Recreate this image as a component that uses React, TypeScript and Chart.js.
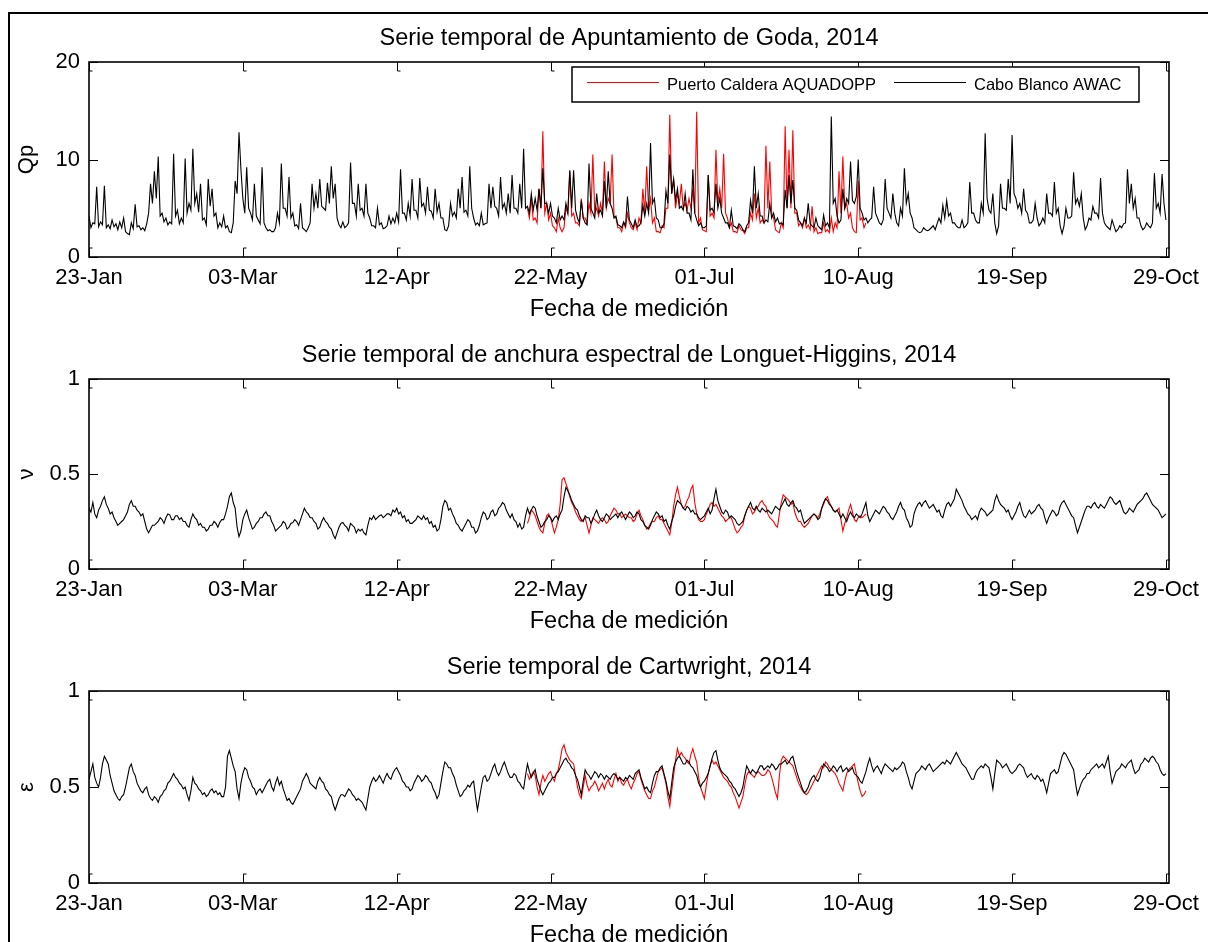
import React, { useEffect, useRef } from 'react';
import { Chart, registerables } from 'chart.js';

Chart.register(...registerables);

const FONT = '"Liberation Sans", Arial, Helvetica, sans-serif';

// Days counted from 23-Jan-2014
const X_TICK_DAYS = [0, 40, 80, 120, 160, 200, 240, 280];
const X_TICK_LABELS = ['23-Jan', '03-Mar', '12-Apr', '22-May', '01-Jul', '10-Aug', '19-Sep', '29-Oct'];
const X_MAX_DAY = 280.8;
const CALDERA_START_DAY = 114;

const SERIES_NAMES = ['Puerto Caldera AQUADOPP', 'Cabo Blanco AWAC'];
const PANEL_TITLES = [
  'Serie temporal de Apuntamiento de Goda, 2014',
  'Serie temporal de anchura espectral de Longuet-Higgins, 2014',
  'Serie temporal de Cartwright, 2014',
];
const Y_LABELS = ['Qp', 'ν', 'ε'];
const X_LABEL = 'Fecha de medición';

// Goda peakedness Qp, Cabo Blanco AWAC: readings at each whole day
const QP_CABO = [
  4.2, 3.5, 7.2, 3.6, 7.3, 3.3, 3.8, 3.4, 3.6, 4.0,
  2.4, 3.5, 5.4, 3.2, 3.0, 3.4, 7.5, 8.8, 10.3, 4.5,
  4.0, 3.6, 10.6, 4.8, 4.0, 10.1, 5.5, 11.1, 6.5, 7.5,
  4.0, 8.0, 7.0, 4.5, 3.5, 4.2, 3.2, 2.5, 7.8, 12.8,
  6.0, 9.2, 4.5, 7.5, 3.8, 9.2, 3.0, 2.8, 2.6, 4.5,
  9.6, 5.0, 8.2, 4.5, 3.3, 5.5, 2.8, 3.0, 7.5, 6.5,
  8.0, 5.0, 7.6, 9.3, 7.5, 3.3, 3.6, 3.2, 9.7, 5.5,
  7.5, 5.0, 7.5, 4.0, 3.2, 5.0, 3.5, 3.0, 4.2, 4.0,
  4.5, 9.0, 4.5, 5.5, 8.0, 4.8, 8.1, 5.5, 7.2, 4.7,
  7.0, 5.5, 4.0, 2.7, 5.5, 4.6, 7.0, 8.2, 4.8, 9.3,
  4.0, 3.5, 4.5, 3.4, 7.5, 7.2, 5.0, 8.2, 5.5, 6.5,
  8.4, 5.0, 7.5, 11.1, 5.2, 6.5, 6.0, 7.0, 9.1, 5.5,
  5.5, 4.0, 5.0, 4.2, 5.5, 8.9, 8.9, 4.0, 5.8, 3.5,
  9.6, 4.5, 6.5, 4.8, 7.8, 8.8, 5.0, 4.2, 3.2, 3.6,
  6.2, 3.4, 3.8, 3.2, 5.3, 5.5, 11.7, 6.0, 3.8, 3.0,
  6.8, 10.5, 8.0, 7.0, 5.2, 6.5, 4.5, 9.0, 3.8, 3.5,
  3.0, 8.4, 5.0, 7.5, 6.0, 4.0, 3.5, 4.8, 3.1, 3.4,
  2.8, 3.2, 5.8, 9.3, 6.5, 4.2, 3.8, 5.5, 4.5, 4.0,
  3.5, 6.9, 8.4, 7.9, 4.8, 3.5, 4.0, 5.5, 3.2, 4.0,
  3.0, 4.3, 3.5, 14.4, 6.0, 3.5, 7.0, 6.0, 9.8, 5.5,
  10.0, 4.5, 4.0, 3.8, 7.2, 4.0, 3.3, 8.0, 4.5, 6.5,
  3.5, 5.0, 9.1, 6.5, 4.0, 2.8, 2.5, 3.0, 2.7, 3.0,
  2.8, 4.0, 5.3, 5.8, 4.5, 3.5, 3.0, 3.8, 3.2, 7.7,
  4.5, 3.5, 5.5, 12.7, 4.8, 6.5, 2.4, 7.5, 5.0, 8.0,
  12.5, 6.0, 5.5, 7.0, 4.5, 3.5, 5.5, 3.2, 4.0, 6.5,
  4.5, 7.7, 5.0, 2.4, 5.0, 4.0, 8.7, 6.0, 6.5, 2.8,
  4.0, 5.2, 4.5, 8.1, 3.5, 3.0, 3.8, 2.6, 3.2, 3.4,
  9.0, 7.5, 6.0, 4.0, 2.8, 3.5, 3.0, 8.6, 5.5, 8.5,
  3.8,
];

// Qp, Cabo Blanco AWAC: readings half-way through each day
const QP_CABO_MID = [
  3.0, 3.4, 3.1, 3.3, 3.0, 2.9, 3.1, 2.8, 3.0, 2.6,
  2.3, 2.9, 3.1, 2.8, 2.7, 4.5, 5.5, 6.0, 4.2, 3.6,
  3.3, 3.4, 4.2, 3.4, 3.5, 4.5, 4.8, 5.5, 4.6, 3.8,
  3.3, 5.2, 4.2, 3.0, 3.1, 3.0, 2.6, 3.5, 6.5, 9.0,
  4.5, 5.0, 3.8, 4.2, 3.4, 3.5, 2.7, 2.6, 3.0, 3.5,
  5.0, 4.2, 4.0, 3.2, 2.9, 3.0, 2.6, 3.5, 5.0, 5.0,
  5.2, 4.8, 5.5, 6.0, 4.0, 3.0, 3.0, 3.5, 5.5, 4.2,
  4.8, 4.2, 4.5, 3.2, 3.0, 3.3, 2.9, 3.2, 3.4, 3.5,
  3.6, 4.5, 3.8, 4.2, 4.8, 4.0, 5.2, 4.5, 4.8, 4.0,
  4.6, 4.0, 2.8, 3.2, 4.2, 4.0, 5.0, 4.6, 4.2, 5.0,
  3.3, 3.2, 3.3, 3.5, 5.0, 5.2, 4.2, 5.0, 4.5, 4.5,
  5.0, 4.5, 5.0, 5.0, 4.5, 4.8, 4.8, 5.0, 5.5, 4.5,
  4.2, 3.5, 3.8, 3.8, 4.5, 5.0, 4.8, 3.5, 4.0, 3.3,
  5.0, 4.0, 4.5, 4.2, 5.0, 5.5, 4.0, 3.3, 3.0, 3.2,
  3.8, 3.0, 3.1, 3.5, 4.2, 4.5, 5.5, 4.0, 3.0, 3.4,
  5.5, 6.5, 5.8, 5.0, 4.8, 4.5, 3.8, 4.5, 3.2, 3.0,
  3.2, 4.8, 4.5, 5.0, 4.5, 3.5, 3.0, 3.2, 2.9, 3.2,
  2.6, 3.5, 4.5, 5.0, 4.2, 3.5, 3.6, 4.0, 3.6, 3.4,
  3.3, 5.0, 5.5, 5.0, 3.8, 3.2, 3.5, 3.4, 3.0, 3.2,
  2.8, 3.2, 3.0, 5.5, 4.2, 3.8, 5.0, 5.5, 5.8, 6.2,
  5.0, 3.8, 3.5, 4.0, 4.5, 3.5, 3.8, 5.0, 4.0, 4.5,
  3.2, 4.2, 5.5, 4.5, 3.0, 2.6, 2.6, 2.8, 2.8, 3.2,
  3.4, 3.5, 4.0, 4.2, 3.5, 3.2, 3.0, 3.0, 3.5, 4.5,
  3.8, 3.5, 4.5, 6.0, 4.5, 3.5, 3.2, 5.0, 4.8, 5.5,
  6.5, 5.0, 4.5, 4.8, 3.5, 3.8, 4.0, 3.5, 3.5, 4.5,
  4.2, 4.5, 3.2, 3.2, 4.0, 4.2, 5.5, 5.2, 4.0, 3.2,
  3.8, 4.5, 4.0, 4.5, 3.2, 2.8, 3.2, 2.8, 3.0, 3.5,
  5.5, 5.0, 4.0, 3.2, 3.0, 3.2, 3.5, 5.0, 4.5, 5.5,
];

// Qp, Puerto Caldera AQUADOPP: readings at each whole day from day 114
const QP_CALDERA = [
  5.0, 6.0, 4.0, 7.0, 12.9, 5.5, 4.5, 3.0, 4.0, 2.6,
  5.0, 8.8, 4.5, 3.5, 6.0, 4.0, 5.5, 10.5, 5.0, 5.5,
  9.8, 6.0, 10.5, 4.0, 3.0, 3.5, 4.5, 3.0, 3.5, 4.0,
  7.0, 9.3, 6.0, 4.0, 2.6, 3.2, 5.0, 14.6, 8.0, 6.5,
  7.5, 5.5, 6.0, 7.0, 14.9, 4.0, 2.7, 8.4, 4.5, 11.0,
  7.0, 10.6, 4.0, 3.5, 2.6, 3.2, 2.7, 3.0, 4.5, 6.5,
  5.0, 3.8, 11.4, 9.8, 4.0, 2.6, 3.5, 13.4, 11.0, 13.0,
  4.5, 3.5, 4.0, 3.3, 5.2, 3.0, 2.5, 3.5, 2.8, 4.0,
  3.5, 8.8, 10.3, 5.5, 4.5, 2.6, 7.8, 4.0, 3.5,
];

// Qp, Puerto Caldera AQUADOPP: half-day readings from day 114.5
const QP_CALDERA_MID = [
  4.0, 3.8, 3.5, 5.0, 4.5, 3.8, 3.2, 2.6, 3.0, 3.0,
  4.5, 4.2, 3.5, 3.2, 4.0, 3.5, 4.5, 4.5, 4.2, 4.5,
  5.0, 5.5, 4.2, 3.0, 2.6, 3.0, 3.5, 2.8, 2.8, 3.5,
  4.5, 4.8, 3.5, 2.6, 2.5, 3.0, 5.0, 6.5, 5.0, 5.5,
  5.0, 4.8, 5.0, 4.5, 3.5, 2.8, 2.6, 4.2, 4.0, 5.5,
  5.0, 4.5, 3.0, 2.6, 2.5, 2.8, 2.4, 3.0, 3.8, 4.0,
  3.5, 3.5, 5.0, 4.5, 2.8, 2.5, 3.0, 5.0, 5.0, 4.5,
  3.2, 3.0, 3.0, 2.8, 2.6, 2.4, 2.5, 2.6, 2.5, 2.6,
  3.0, 4.5, 5.0, 4.0, 3.0, 2.5, 3.8, 3.0,
];

// Longuet-Higgins spectral width ν, Cabo Blanco AWAC: whole days
const NU_CABO = [
  0.32, 0.35, 0.27, 0.33, 0.38, 0.32, 0.30, 0.25, 0.24, 0.26,
  0.30, 0.36, 0.33, 0.30, 0.29, 0.21, 0.21, 0.23, 0.25, 0.26,
  0.27, 0.285, 0.26, 0.28, 0.27, 0.25, 0.22, 0.29, 0.26, 0.24,
  0.22, 0.21, 0.23, 0.24, 0.245, 0.26, 0.33, 0.40, 0.32, 0.17,
  0.26, 0.31, 0.24, 0.22, 0.25, 0.27, 0.30, 0.28, 0.23, 0.21,
  0.23, 0.24, 0.22, 0.245, 0.25, 0.26, 0.32, 0.29, 0.27, 0.24,
  0.22, 0.27, 0.24, 0.21, 0.16, 0.22, 0.245, 0.22, 0.24, 0.22,
  0.21, 0.21, 0.18, 0.27, 0.28, 0.27, 0.285, 0.28, 0.29, 0.31,
  0.32, 0.30, 0.28, 0.26, 0.24, 0.26, 0.27, 0.28, 0.27, 0.25,
  0.23, 0.21, 0.33, 0.35, 0.32, 0.27, 0.23, 0.20, 0.24, 0.25,
  0.22, 0.20, 0.27, 0.29, 0.27, 0.31, 0.29, 0.33, 0.34, 0.29,
  0.29, 0.25, 0.24, 0.22, 0.32, 0.31, 0.32, 0.25, 0.23, 0.26,
  0.27, 0.27, 0.26, 0.31, 0.43, 0.39, 0.34, 0.31, 0.26, 0.28,
  0.27, 0.26, 0.31, 0.26, 0.27, 0.28, 0.27, 0.29, 0.29, 0.28,
  0.28, 0.29, 0.28, 0.29, 0.25, 0.22, 0.23, 0.28, 0.29, 0.28,
  0.26, 0.21, 0.28, 0.36, 0.34, 0.31, 0.32, 0.31, 0.29, 0.26,
  0.28, 0.32, 0.31, 0.42, 0.33, 0.29, 0.30, 0.28, 0.26, 0.23,
  0.25, 0.31, 0.35, 0.31, 0.31, 0.32, 0.30, 0.30, 0.31, 0.32,
  0.33, 0.37, 0.33, 0.36, 0.32, 0.31, 0.24, 0.26, 0.28, 0.28,
  0.27, 0.35, 0.36, 0.33, 0.30, 0.29, 0.29, 0.25, 0.30, 0.27,
  0.28, 0.29, 0.35, 0.25, 0.29, 0.30, 0.31, 0.32, 0.29, 0.26,
  0.30, 0.35, 0.31, 0.25, 0.23, 0.32, 0.35, 0.35, 0.34, 0.33,
  0.32, 0.31, 0.27, 0.34, 0.33, 0.37, 0.40, 0.36, 0.31, 0.28,
  0.27, 0.26, 0.32, 0.30, 0.29, 0.31, 0.39, 0.34, 0.32, 0.31,
  0.26, 0.30, 0.35, 0.28, 0.29, 0.29, 0.31, 0.34, 0.31, 0.24,
  0.29, 0.30, 0.29, 0.35, 0.34, 0.30, 0.27, 0.19, 0.25, 0.31,
  0.33, 0.34, 0.33, 0.34, 0.32, 0.36, 0.37, 0.34, 0.36, 0.30,
  0.30, 0.31, 0.32, 0.35, 0.37, 0.40, 0.36, 0.33, 0.31, 0.27,
  0.29,
];

// ν, Cabo Blanco AWAC: half-day readings
const NU_CABO_MID = [
  0.30, 0.29, 0.31, 0.36, 0.34, 0.29, 0.27, 0.23, 0.25, 0.28,
  0.34, 0.33, 0.31, 0.28, 0.25, 0.19, 0.23, 0.24, 0.27, 0.24,
  0.29, 0.26, 0.28, 0.26, 0.25, 0.23, 0.26, 0.27, 0.23, 0.22,
  0.20, 0.23, 0.25, 0.22, 0.26, 0.29, 0.38, 0.35, 0.22, 0.20,
  0.29, 0.27, 0.21, 0.24, 0.27, 0.29, 0.28, 0.25, 0.20, 0.22,
  0.25, 0.21, 0.24, 0.26, 0.23, 0.29, 0.30, 0.27, 0.25, 0.21,
  0.25, 0.25, 0.22, 0.18, 0.19, 0.24, 0.23, 0.20, 0.23, 0.19,
  0.20, 0.19, 0.23, 0.26, 0.26, 0.28, 0.27, 0.29, 0.28, 0.30,
  0.29, 0.27, 0.25, 0.24, 0.25, 0.28, 0.26, 0.26, 0.24, 0.22,
  0.20, 0.26, 0.36, 0.31, 0.29, 0.24, 0.21, 0.22, 0.26, 0.22,
  0.19, 0.23, 0.30, 0.26, 0.30, 0.28, 0.32, 0.35, 0.31, 0.27,
  0.26, 0.22, 0.21, 0.28, 0.29, 0.33, 0.28, 0.22, 0.25, 0.28,
  0.25, 0.28, 0.29, 0.38, 0.41, 0.36, 0.32, 0.28, 0.25, 0.27,
  0.24, 0.29, 0.28, 0.25, 0.29, 0.26, 0.28, 0.27, 0.30, 0.26,
  0.30, 0.27, 0.30, 0.26, 0.23, 0.21, 0.26, 0.30, 0.27, 0.25,
  0.23, 0.25, 0.33, 0.35, 0.32, 0.33, 0.30, 0.29, 0.27, 0.27,
  0.30, 0.29, 0.37, 0.36, 0.30, 0.31, 0.27, 0.27, 0.24, 0.24,
  0.28, 0.33, 0.32, 0.33, 0.30, 0.31, 0.31, 0.29, 0.33, 0.31,
  0.35, 0.34, 0.35, 0.33, 0.30, 0.27, 0.25, 0.27, 0.29, 0.26,
  0.32, 0.37, 0.34, 0.31, 0.31, 0.27, 0.27, 0.28, 0.28, 0.29,
  0.27, 0.32, 0.28, 0.27, 0.31, 0.29, 0.33, 0.30, 0.27, 0.28,
  0.33, 0.32, 0.27, 0.22, 0.29, 0.34, 0.33, 0.36, 0.32, 0.34,
  0.30, 0.28, 0.31, 0.35, 0.35, 0.42, 0.38, 0.33, 0.29, 0.26,
  0.28, 0.30, 0.31, 0.28, 0.30, 0.36, 0.36, 0.33, 0.30, 0.28,
  0.28, 0.33, 0.31, 0.27, 0.31, 0.30, 0.33, 0.32, 0.27, 0.27,
  0.31, 0.28, 0.33, 0.36, 0.32, 0.28, 0.23, 0.22, 0.28, 0.33,
  0.32, 0.35, 0.32, 0.33, 0.34, 0.38, 0.35, 0.35, 0.33, 0.29,
  0.32, 0.30, 0.34, 0.36, 0.39, 0.38, 0.34, 0.32, 0.29, 0.28,
];

// ν, Puerto Caldera AQUADOPP: whole days from day 114
const NU_CALDERA = [
  0.24, 0.31, 0.28, 0.22, 0.19, 0.28, 0.27, 0.19, 0.26, 0.47,
  0.45, 0.38, 0.33, 0.28, 0.25, 0.27, 0.19, 0.27, 0.25, 0.26,
  0.26, 0.25, 0.30, 0.31, 0.29, 0.28, 0.28, 0.27, 0.26, 0.31,
  0.26, 0.21, 0.24, 0.25, 0.28, 0.26, 0.22, 0.18, 0.33, 0.43,
  0.34, 0.33, 0.38, 0.44, 0.29, 0.25, 0.26, 0.31, 0.35, 0.34,
  0.30, 0.27, 0.26, 0.27, 0.21, 0.20, 0.23, 0.31, 0.32, 0.30,
  0.33, 0.36, 0.33, 0.27, 0.25, 0.22, 0.35, 0.38, 0.36, 0.35,
  0.27, 0.25, 0.22, 0.24, 0.28, 0.28, 0.29, 0.34, 0.38, 0.33,
  0.30, 0.32, 0.20, 0.27, 0.34, 0.26, 0.27, 0.27, 0.29,
];

// ν, Puerto Caldera AQUADOPP: half-day readings from day 114.5
const NU_CALDERA_MID = [
  0.27, 0.30, 0.25, 0.20, 0.24, 0.29, 0.23, 0.22, 0.34, 0.48,
  0.42, 0.35, 0.30, 0.26, 0.26, 0.23, 0.23, 0.26, 0.24, 0.27,
  0.24, 0.28, 0.32, 0.29, 0.27, 0.29, 0.27, 0.25, 0.29, 0.28,
  0.23, 0.22, 0.25, 0.27, 0.26, 0.24, 0.20, 0.24, 0.39, 0.38,
  0.32, 0.36, 0.42, 0.35, 0.26, 0.25, 0.29, 0.34, 0.33, 0.32,
  0.28, 0.25, 0.27, 0.24, 0.19, 0.22, 0.28, 0.33, 0.29, 0.32,
  0.35, 0.34, 0.29, 0.26, 0.23, 0.29, 0.39, 0.37, 0.34, 0.30,
  0.25, 0.23, 0.23, 0.26, 0.29, 0.27, 0.32, 0.37, 0.35, 0.31,
  0.31, 0.26, 0.24, 0.31, 0.30, 0.25, 0.28, 0.28,
];

// Cartwright spectral width ε, Cabo Blanco AWAC: whole days
const EPS_CABO = [
  0.54, 0.62, 0.52, 0.55, 0.66, 0.62, 0.52, 0.46, 0.43, 0.46,
  0.55, 0.62, 0.56, 0.50, 0.47, 0.50, 0.44, 0.45, 0.42, 0.46,
  0.49, 0.53, 0.57, 0.54, 0.51, 0.50, 0.43, 0.55, 0.51, 0.48,
  0.47, 0.46, 0.49, 0.48, 0.47, 0.45, 0.66, 0.65, 0.58, 0.44,
  0.57, 0.59, 0.53, 0.49, 0.48, 0.47, 0.51, 0.54, 0.48, 0.55,
  0.53, 0.46, 0.44, 0.41, 0.45, 0.49, 0.55, 0.55, 0.51, 0.49,
  0.55, 0.52, 0.48, 0.45, 0.38, 0.44, 0.46, 0.47, 0.48, 0.45,
  0.44, 0.42, 0.38, 0.50, 0.55, 0.54, 0.54, 0.55, 0.55, 0.57,
  0.60, 0.56, 0.52, 0.50, 0.49, 0.54, 0.55, 0.54, 0.55, 0.52,
  0.47, 0.46, 0.58, 0.62, 0.60, 0.55, 0.48, 0.46, 0.49, 0.50,
  0.53, 0.38, 0.50, 0.56, 0.54, 0.60, 0.58, 0.58, 0.63, 0.57,
  0.55, 0.56, 0.52, 0.49, 0.62, 0.55, 0.59, 0.51, 0.46, 0.50,
  0.53, 0.55, 0.58, 0.62, 0.65, 0.62, 0.59, 0.54, 0.46, 0.59,
  0.56, 0.56, 0.57, 0.57, 0.54, 0.55, 0.56, 0.56, 0.55, 0.53,
  0.54, 0.55, 0.57, 0.59, 0.52, 0.50, 0.47, 0.56, 0.58, 0.61,
  0.53, 0.44, 0.60, 0.65, 0.64, 0.62, 0.63, 0.60, 0.56, 0.50,
  0.53, 0.57, 0.65, 0.69, 0.60, 0.57, 0.55, 0.52, 0.49, 0.45,
  0.50, 0.61, 0.57, 0.58, 0.59, 0.61, 0.60, 0.60, 0.61, 0.60,
  0.62, 0.64, 0.63, 0.66, 0.58, 0.52, 0.47, 0.50, 0.55, 0.54,
  0.55, 0.62, 0.60, 0.59, 0.60, 0.60, 0.58, 0.60, 0.59, 0.57,
  0.55, 0.52, 0.58, 0.65, 0.58, 0.61, 0.57, 0.62, 0.60, 0.58,
  0.59, 0.61, 0.62, 0.55, 0.49, 0.57, 0.59, 0.60, 0.61, 0.60,
  0.59, 0.61, 0.63, 0.64, 0.62, 0.66, 0.66, 0.62, 0.60, 0.56,
  0.54, 0.59, 0.61, 0.62, 0.60, 0.49, 0.64, 0.62, 0.61, 0.60,
  0.57, 0.59, 0.62, 0.60, 0.55, 0.57, 0.54, 0.55, 0.54, 0.47,
  0.57, 0.59, 0.58, 0.66, 0.67, 0.63, 0.59, 0.46, 0.52, 0.55,
  0.57, 0.60, 0.62, 0.61, 0.60, 0.66, 0.52, 0.58, 0.60, 0.61,
  0.62, 0.64, 0.57, 0.59, 0.63, 0.64, 0.65, 0.65, 0.62, 0.57,
  0.57,
];

// ε, Cabo Blanco AWAC: half-day readings
const EPS_CABO_MID = [
  0.58, 0.55, 0.50, 0.62, 0.64, 0.56, 0.48, 0.44, 0.45, 0.50,
  0.60, 0.58, 0.52, 0.48, 0.49, 0.46, 0.43, 0.44, 0.45, 0.48,
  0.52, 0.55, 0.55, 0.52, 0.49, 0.46, 0.48, 0.52, 0.49, 0.46,
  0.45, 0.48, 0.47, 0.46, 0.45, 0.50, 0.69, 0.61, 0.49, 0.52,
  0.60, 0.55, 0.50, 0.46, 0.49, 0.49, 0.53, 0.50, 0.52, 0.51,
  0.49, 0.43, 0.42, 0.43, 0.47, 0.53, 0.57, 0.52, 0.50, 0.53,
  0.53, 0.49, 0.46, 0.41, 0.41, 0.46, 0.45, 0.49, 0.46, 0.43,
  0.43, 0.40, 0.44, 0.53, 0.53, 0.56, 0.52, 0.57, 0.54, 0.59,
  0.58, 0.53, 0.50, 0.48, 0.52, 0.56, 0.53, 0.56, 0.53, 0.49,
  0.44, 0.52, 0.63, 0.60, 0.57, 0.51, 0.45, 0.48, 0.51, 0.52,
  0.45, 0.44, 0.55, 0.53, 0.57, 0.62, 0.56, 0.61, 0.60, 0.55,
  0.57, 0.53, 0.50, 0.56, 0.58, 0.57, 0.54, 0.48, 0.48, 0.52,
  0.55, 0.57, 0.60, 0.64, 0.63, 0.60, 0.56, 0.50, 0.53, 0.57,
  0.54, 0.58, 0.55, 0.56, 0.56, 0.54, 0.57, 0.54, 0.54, 0.55,
  0.56, 0.54, 0.58, 0.55, 0.49, 0.48, 0.52, 0.58, 0.60, 0.57,
  0.48, 0.52, 0.63, 0.66, 0.62, 0.64, 0.61, 0.58, 0.52, 0.52,
  0.55, 0.61, 0.68, 0.64, 0.58, 0.56, 0.53, 0.50, 0.47, 0.47,
  0.56, 0.59, 0.59, 0.57, 0.61, 0.59, 0.61, 0.62, 0.59, 0.62,
  0.63, 0.62, 0.65, 0.62, 0.55, 0.49, 0.48, 0.53, 0.56, 0.53,
  0.59, 0.61, 0.58, 0.61, 0.58, 0.61, 0.59, 0.58, 0.60, 0.56,
  0.53, 0.55, 0.62, 0.61, 0.60, 0.59, 0.60, 0.61, 0.59, 0.60,
  0.60, 0.63, 0.58, 0.51, 0.53, 0.58, 0.61, 0.59, 0.62, 0.58,
  0.60, 0.62, 0.62, 0.63, 0.64, 0.68, 0.64, 0.61, 0.58, 0.54,
  0.57, 0.60, 0.60, 0.61, 0.55, 0.57, 0.63, 0.60, 0.62, 0.58,
  0.58, 0.61, 0.61, 0.57, 0.56, 0.55, 0.56, 0.53, 0.51, 0.52,
  0.58, 0.57, 0.62, 0.68, 0.65, 0.61, 0.52, 0.49, 0.54, 0.57,
  0.59, 0.61, 0.60, 0.62, 0.63, 0.58, 0.55, 0.59, 0.62, 0.60,
  0.63, 0.60, 0.58, 0.62, 0.65, 0.63, 0.66, 0.63, 0.59, 0.56,
];

// ε, Puerto Caldera AQUADOPP: whole days from day 114
const EPS_CALDERA = [
  0.57, 0.56, 0.56, 0.46, 0.56, 0.55, 0.58, 0.53, 0.59, 0.70,
  0.68, 0.64, 0.62, 0.50, 0.44, 0.56, 0.48, 0.51, 0.51, 0.50,
  0.49, 0.54, 0.50, 0.57, 0.55, 0.51, 0.54, 0.49, 0.54, 0.58,
  0.51, 0.46, 0.44, 0.50, 0.58, 0.60, 0.52, 0.40, 0.56, 0.70,
  0.68, 0.65, 0.62, 0.70, 0.63, 0.50, 0.44, 0.57, 0.64, 0.63,
  0.59, 0.55, 0.53, 0.50, 0.45, 0.39, 0.45, 0.56, 0.57, 0.55,
  0.58, 0.56, 0.57, 0.58, 0.51, 0.44, 0.64, 0.65, 0.63, 0.61,
  0.55, 0.50, 0.47, 0.47, 0.51, 0.55, 0.59, 0.60, 0.62, 0.59,
  0.57, 0.52, 0.48, 0.57, 0.60, 0.62, 0.52, 0.45, 0.48,
];

// ε, Puerto Caldera AQUADOPP: half-day readings from day 114.5
const EPS_CALDERA_MID = [
  0.54, 0.58, 0.50, 0.52, 0.53, 0.57, 0.55, 0.57, 0.64, 0.72,
  0.66, 0.63, 0.56, 0.46, 0.50, 0.51, 0.50, 0.53, 0.48, 0.52,
  0.52, 0.51, 0.54, 0.53, 0.52, 0.53, 0.51, 0.52, 0.57, 0.54,
  0.48, 0.44, 0.48, 0.54, 0.59, 0.56, 0.45, 0.48, 0.64, 0.66,
  0.66, 0.63, 0.67, 0.66, 0.55, 0.47, 0.51, 0.61, 0.62, 0.61,
  0.57, 0.54, 0.51, 0.47, 0.42, 0.42, 0.51, 0.58, 0.56, 0.57,
  0.57, 0.56, 0.59, 0.55, 0.47, 0.56, 0.66, 0.64, 0.62, 0.58,
  0.52, 0.48, 0.46, 0.49, 0.53, 0.57, 0.61, 0.63, 0.60, 0.58,
  0.55, 0.50, 0.53, 0.59, 0.61, 0.57, 0.48, 0.46,
];

const Y_TICKS_QP = [0, 10, 20];
const Y_TICKS_UNIT = [0, 0.5, 1];

type PanelSpec = {
  top: number;
  height: number;
  chartTop: number;
  chartBottom: number;
  yTicks: number[];
  title: string;
  yLabel: string;
  caldera: number[];
  calderaMid: number[];
  cabo: number[];
  caboMid: number[];
  legend: boolean;
};

const PAGE_W = 1208;
const AXIS_LEFT = 89;
const AXIS_RIGHT = 1169;

const PANELS: PanelSpec[] = [
  { top: 14, height: 306, chartTop: 48, chartBottom: 243, yTicks: Y_TICKS_QP, title: PANEL_TITLES[0], yLabel: Y_LABELS[0], caldera: QP_CALDERA, calderaMid: QP_CALDERA_MID, cabo: QP_CABO, caboMid: QP_CABO_MID, legend: true },
  { top: 326, height: 306, chartTop: 53, chartBottom: 243, yTicks: Y_TICKS_UNIT, title: PANEL_TITLES[1], yLabel: Y_LABELS[1], caldera: NU_CALDERA, calderaMid: NU_CALDERA_MID, cabo: NU_CABO, caboMid: NU_CABO_MID, legend: false },
  { top: 638, height: 304, chartTop: 53, chartBottom: 245, yTicks: Y_TICKS_UNIT, title: PANEL_TITLES[2], yLabel: Y_LABELS[2], caldera: EPS_CALDERA, calderaMid: EPS_CALDERA_MID, cabo: EPS_CABO, caboMid: EPS_CABO_MID, legend: false },
];

// Whole-day readings followed, where present, by the half-day reading
function toPoints(startDay: number, whole: number[], mid: number[]) {
  const pts: { x: number; y: number }[] = [];
  whole.forEach((y, i) => {
    pts.push({ x: startDay + i, y });
    if (i < mid.length) pts.push({ x: startDay + i + 0.5, y: mid[i] });
  });
  return pts;
}

// Axes box, inward ticks, titles and the boxed legend
function framePlugin(spec: PanelSpec) {
  return {
    id: 'matlabFrame',
    afterDraw(chart: any) {
      const { ctx, chartArea } = chart;
      const { left, right, top, bottom } = chartArea;
      const xs = chart.scales.x;
      const ys = chart.scales.y;
      ctx.save();
      ctx.strokeStyle = '#000';
      ctx.fillStyle = '#000';

      // ticks pointing into the plot
      ctx.lineWidth = 1;
      const tl = 9;
      ctx.beginPath();
      for (const d of X_TICK_DAYS) {
        const px = Math.round(xs.getPixelForValue(d)) + 0.5;
        ctx.moveTo(px, bottom); ctx.lineTo(px, bottom - tl); ctx.lineTo(px + 3, bottom - tl);
        ctx.moveTo(px, top); ctx.lineTo(px, top + tl); ctx.lineTo(px + 3, top + tl);
      }
      for (const v of spec.yTicks) {
        const py = Math.round(ys.getPixelForValue(v)) + 0.5;
        ctx.moveTo(left, py); ctx.lineTo(left + tl, py);
        ctx.moveTo(right, py); ctx.lineTo(right - tl, py);
      }
      ctx.stroke();

      // axes box
      ctx.lineWidth = 1.6;
      ctx.strokeRect(left, top, right - left, bottom - top);

      // titles
      ctx.font = `23.5px ${FONT}`;
      ctx.textAlign = 'center';
      ctx.textBaseline = 'alphabetic';
      const cx = (left + right) / 2;
      ctx.fillText(spec.title, cx, top - 17);
      ctx.fillText(X_LABEL, cx, bottom + 59);

      ctx.save();
      ctx.translate(27, (top + bottom) / 2);
      ctx.rotate(-Math.PI / 2);
      ctx.textBaseline = 'middle';
      ctx.font = `22px ${FONT}`;
      ctx.fillText(spec.yLabel, 0, 0);
      ctx.restore();

      if (spec.legend) {
        const bx = right - 597;
        const by = top + 5;
        const bw = 567;
        const bh = 35;
        ctx.fillStyle = '#fff';
        ctx.fillRect(bx, by, bw, bh);
        ctx.lineWidth = 1.5;
        ctx.strokeRect(bx, by, bw, bh);
        const ly = by + 15.5;
        const items = [
          { ds: chart.data.datasets[0], x0: bx + 15 },
          { ds: chart.data.datasets[1], x0: bx + 322 },
        ];
        ctx.font = `16.5px ${FONT}`;
        ctx.textAlign = 'left';
        ctx.textBaseline = 'middle';
        for (const it of items) {
          ctx.strokeStyle = it.ds.borderColor;
          ctx.lineWidth = 1;
          ctx.beginPath();
          ctx.moveTo(it.x0, ly);
          ctx.lineTo(it.x0 + 72, ly);
          ctx.stroke();
          ctx.fillStyle = '#000';
          ctx.fillText(it.ds.label, it.x0 + 80, by + 18);
        }
      }
      ctx.restore();
    },
  };
}

function Panel({ spec }: { spec: PanelSpec }) {
  const ref = useRef<HTMLCanvasElement>(null);
  useEffect(() => {
    const tickFont = { family: FONT, size: 22 };
    const chart = new Chart(ref.current as HTMLCanvasElement, {
      type: 'line',
      data: {
        datasets: [
          {
            label: SERIES_NAMES[0],
            data: toPoints(CALDERA_START_DAY, spec.caldera, spec.calderaMid),
            borderColor: '#ff0000',
            borderWidth: 1.1,
            pointRadius: 0,
            tension: 0,
            order: 2,
          },
          {
            label: SERIES_NAMES[1],
            data: toPoints(0, spec.cabo, spec.caboMid),
            borderColor: '#000000',
            borderWidth: 1.1,
            pointRadius: 0,
            tension: 0,
            order: 1,
          },
        ],
      },
      options: {
        responsive: false,
        animation: false,
        devicePixelRatio: 1,
        events: [],
        layout: { padding: { top: spec.chartTop, left: 0, right: PAGE_W - AXIS_RIGHT, bottom: 0 } },
        plugins: { legend: { display: false }, tooltip: { enabled: false }, title: { display: false } },
        scales: {
          x: {
            type: 'linear',
            min: 0,
            max: X_MAX_DAY,
            afterBuildTicks: (s: any) => { s.ticks = X_TICK_DAYS.map((value) => ({ value })); },
            afterFit: (s: any) => { s.height = spec.height - spec.chartBottom; },
            grid: { display: false, drawTicks: false },
            border: { display: false },
            ticks: {
              autoSkip: false,
              maxRotation: 0,
              minRotation: 0,
              padding: 8,
              color: '#000',
              font: tickFont,
              callback: (v: any) => {
                const k = X_TICK_DAYS.indexOf(Number(v));
                return k >= 0 ? X_TICK_LABELS[k] : '';
              },
            },
          },
          y: {
            type: 'linear',
            min: spec.yTicks[0],
            max: spec.yTicks[spec.yTicks.length - 1],
            afterBuildTicks: (s: any) => { s.ticks = spec.yTicks.map((value) => ({ value })); },
            afterFit: (s: any) => { s.width = AXIS_LEFT; },
            grid: { display: false, drawTicks: false },
            border: { display: false },
            ticks: { padding: 9, color: '#000', font: tickFont, callback: (v: any) => String(v) },
          },
        },
      },
      plugins: [framePlugin(spec)],
    } as any);
    return () => chart.destroy();
  }, [spec]);
  return (
    <canvas
      ref={ref}
      width={PAGE_W}
      height={spec.height}
      style={{ position: 'absolute', left: 0, top: spec.top, width: PAGE_W, height: spec.height }}
    />
  );
}

export default function App() {
  return (
    <div style={{ position: 'absolute', left: 0, top: 0, width: 1208, height: 942, background: '#fff', overflow: 'hidden' }}>
      <div
        style={{
          position: 'absolute', left: 8, top: 12, width: 1300, height: 1000,
          borderLeft: '2px solid #000', borderTop: '2px solid #000', boxSizing: 'border-box',
        }}
      />
      {PANELS.map((p, i) => (
        <Panel key={i} spec={p} />
      ))}
    </div>
  );
}
